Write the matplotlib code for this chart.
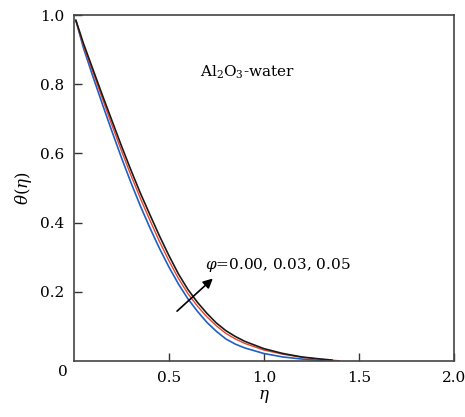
import matplotlib
matplotlib.use('Agg')
import matplotlib.pyplot as plt

# perfis de temperatura (eta, theta)
phi_labels = ['0.00', '0.03', '0.05']

eta = [0.01, 0.05, 0.1, 0.15, 0.2, 0.25, 0.3, 0.35, 0.4, 0.45, 0.5, 0.55,
       0.6, 0.65, 0.7, 0.75, 0.8, 0.85, 0.9, 1.0, 1.1, 1.2, 1.3]

# phi = 0.00 (azul)
eta_000 = eta + [1.32]
theta_000 = [0.985, 0.905, 0.822, 0.742, 0.664, 0.588, 0.516, 0.448, 0.385, 0.326,
             0.272, 0.223, 0.180, 0.144, 0.112, 0.086, 0.064, 0.049, 0.038, 0.022,
             0.012, 0.006, 0.002, 0.001]

# phi = 0.03 (vermelho)
eta_003 = eta + [1.40]
theta_003 = [0.985, 0.912, 0.835, 0.758, 0.682, 0.608, 0.537, 0.470, 0.407, 0.346,
             0.290, 0.239, 0.195, 0.159, 0.128, 0.102, 0.080, 0.064, 0.051, 0.032,
             0.020, 0.011, 0.005, 0.001]

# phi = 0.05 (preto)
eta_005 = eta + [1.36]
theta_005 = [0.985, 0.918, 0.843, 0.768, 0.695, 0.622, 0.552, 0.485, 0.423, 0.362,
             0.305, 0.252, 0.207, 0.170, 0.138, 0.110, 0.088, 0.071, 0.057, 0.036,
             0.022, 0.012, 0.006, 0.003]

plt.rcParams['font.family'] = 'DejaVu Serif'
plt.rcParams['mathtext.fontset'] = 'dejavuserif'

fig = plt.figure(figsize=(4.65, 4.17), dpi=100)
ax = fig.add_axes([0.159, 0.134, 0.817, 0.830])

kw = dict(solid_joinstyle='round', solid_capstyle='round')
ax.plot(eta_000, theta_000, color='#1f5fc4', lw=1.2, **kw)
ax.plot(eta_003, theta_003, color='#e8452c', lw=1.0, **kw)
ax.plot(eta_005, theta_005, color='#1a1a1a', lw=1.2, **kw)

ax.set_xlim(0, 2.0)
ax.set_ylim(0, 1.0)
ax.set_xticks([0.5, 1.0, 1.5, 2.0])
ax.set_xticklabels(['0.5', '1.0', '1.5', '2.0'])
ax.set_yticks([0.2, 0.4, 0.6, 0.8, 1.0])
ax.set_yticklabels(['0.2', '0.4', '0.6', '0.8', '1.0'])
ax.tick_params(direction='in', length=6, width=1.0, labelsize=11, color='#333333', pad=7)
for s in ax.spines.values():
    s.set_linewidth(1.2)
    s.set_color('#444444')

# o zero fica no canto, compartilhado pelos dois eixos
ax.text(-0.03, -0.012, '0', ha='right', va='top', fontsize=11)

ax.set_xlabel(r'$\eta$', fontsize=12, labelpad=2)
ax.set_ylabel(r'$\theta(\eta)$', fontsize=12, labelpad=4)

ax.text(0.663, 0.835, r'Al$_2$O$_3$-water', fontsize=11, va='center')

ax.annotate('', xy=(0.742, 0.244), xytext=(0.532, 0.139),
            arrowprops=dict(arrowstyle='-|>', color='black', lw=1.2, mutation_scale=14))
ax.text(0.69, 0.277, r'$\varphi$=' + ', '.join(phi_labels), fontsize=11, va='center')

fig.savefig('out.png', dpi=100)
